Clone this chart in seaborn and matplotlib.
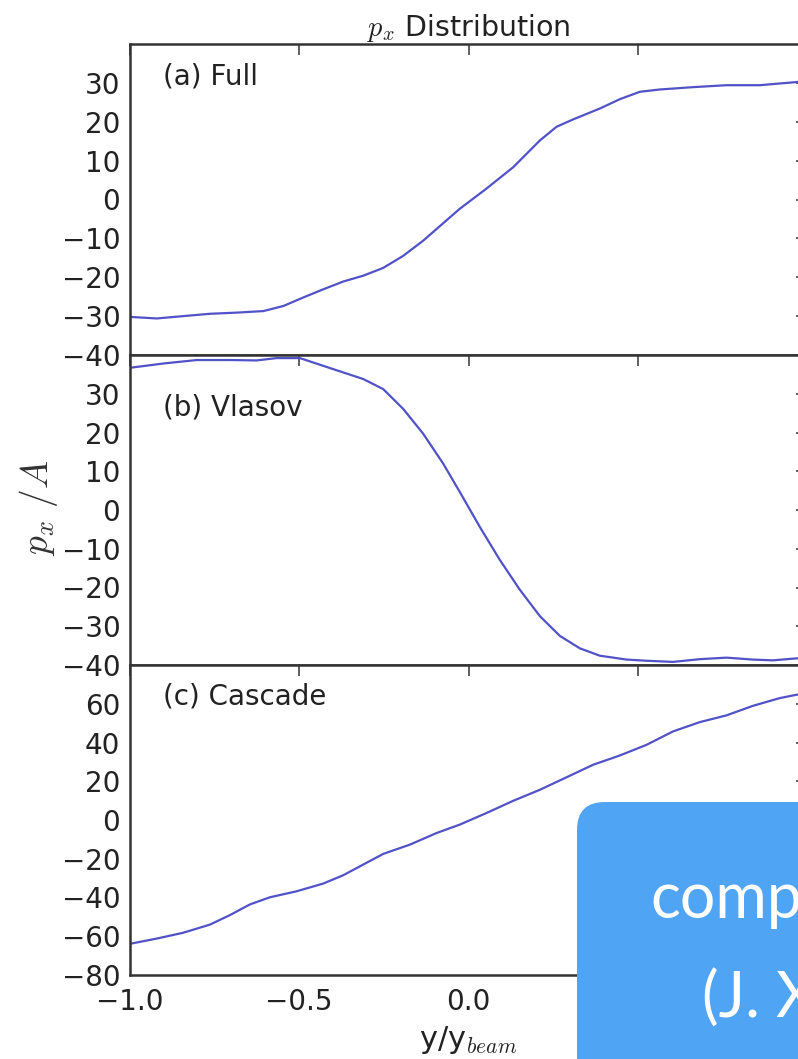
import numpy as np
import pandas as pd
import seaborn as sns
import matplotlib
matplotlib.use("Agg")
import matplotlib.pyplot as plt
from matplotlib.patches import FancyBboxPatch

# ---- data ----
x_full = [-1.0, -0.921, -0.843, -0.764, -0.685, -0.606, -0.547, -0.488, -0.429, -0.370,
          -0.311, -0.252, -0.193, -0.134, -0.080, -0.026, 0.053, 0.132, 0.211, 0.260,
          0.309, 0.388, 0.447, 0.506, 0.565, 0.663, 0.762, 0.860, 0.968, 1.0]
y_full = [-30.2, -30.6, -30.0, -29.4, -29.1, -28.7, -27.4, -25.2, -23.1, -21.1,
          -19.6, -17.6, -14.5, -10.6, -6.5, -2.4, 2.8, 8.3, 15.2, 18.7,
          20.6, 23.4, 25.8, 27.7, 28.3, 28.9, 29.4, 29.4, 30.2, 30.5]

x_vlasov = [-1.0, -0.902, -0.803, -0.705, -0.626, -0.567, -0.498, -0.429, -0.370, -0.311,
            -0.252, -0.193, -0.134, -0.075, -0.026, 0.033, 0.092, 0.151, 0.211, 0.270,
            0.329, 0.388, 0.467, 0.526, 0.604, 0.683, 0.762, 0.840, 0.899, 0.968, 1.0]
y_vlasov = [36.7, 37.8, 38.7, 38.7, 38.6, 39.2, 39.2, 37.2, 35.5, 33.8,
            31.2, 26.1, 19.7, 12.0, 4.7, -4.3, -12.8, -20.5, -27.4, -32.5,
            -35.7, -37.6, -38.6, -38.9, -39.2, -38.5, -38.1, -38.6, -38.8, -38.3, -38.2]

x_cascade = [-1.0, -0.921, -0.843, -0.764, -0.705, -0.646, -0.587, -0.508, -0.429, -0.370,
             -0.311, -0.252, -0.173, -0.094, -0.026, 0.053, 0.132, 0.211, 0.289, 0.368,
             0.447, 0.526, 0.604, 0.683, 0.762, 0.840, 0.919, 0.968, 1.0]
y_cascade = [-63.9, -61.2, -58.2, -54.0, -49.1, -43.6, -39.9, -36.8, -32.8, -28.5,
             -23.0, -17.5, -12.7, -6.7, -2.4, 3.6, 9.9, 15.6, 22.0, 28.5,
             33.3, 38.8, 45.7, 50.5, 54.0, 58.9, 62.9, 64.6, 65.5]

panel_labels = ["(a) Full", "(b) Vlasov", "(c) Cascade"]
ylims = [(-40, 40), (-40, 40), (-80, 80)]
yticks = [list(range(-40, 31, 10)), list(range(-40, 31, 10)), list(range(-80, 61, 20))]
xticks = [-1.0, -0.5, 0.0, 0.5, 1.0]
xticklabels = ["\u22121.0", "\u22120.5", "0.0", "", ""]
title = r"$p_x$ Distribution"
ylabel = r"$p_x\ /A$"
xlabel = r"y/y$_{beam}$"

sns.set_style("white")
plt.rcParams["font.family"] = ["DejaVu Sans"]
plt.rcParams["mathtext.fontset"] = "cm"

W, H = 798, 1059
fig = plt.figure(figsize=(W / 100, H / 100), dpi=100)

def fx(px):
    return px / W

def fy(py):
    return 1 - py / H

left = fx(130)
width = 677 / W
tops = [44, 355, 665]
bots = [355, 665, 975]
label_y = [0.897, 0.832, 0.90]

datasets = [(x_full, y_full), (x_vlasov, y_vlasov), (x_cascade, y_cascade)]
axes = []
for i in range(3):
    ax = fig.add_axes([left, fy(bots[i]), width, (bots[i] - tops[i]) / H])
    df = pd.DataFrame({"x": datasets[i][0], "y": datasets[i][1]})
    sns.lineplot(data=df, x="x", y="y", ax=ax, color="#5252c8", linewidth=1.6)
    ax.set_xlim(-1.0, 1.0)
    ax.set_ylim(*ylims[i])
    ax.set_yticks(yticks[i])
    ax.set_xticks(xticks)
    ax.set_xlabel("")
    ax.set_ylabel("")
    for s in ax.spines.values():
        s.set_color("#333333")
        s.set_linewidth(1.8)
    ax.tick_params(direction="in", top=True, right=True, length=8, width=1.2,
                   color="#444444", labelsize=20, pad=7, labelcolor="#222222")
    if i < 2:
        ax.tick_params(labelbottom=False)
    else:
        ax.set_xticklabels(xticklabels)
        ax.tick_params(axis="x", pad=9)
    ax.text(0.049, label_y[i], panel_labels[i], transform=ax.transAxes,
            fontsize=20, va="center", ha="left", color="#222222")
    axes.append(ax)

axes[0].set_title(title, fontsize=20.5, pad=5, color="#222222")
fig.text(fx(38), fy(508), ylabel, rotation=90, fontsize=27, va="center", ha="center",
         color="#333333")
fig.text(fx(468), fy(1040), xlabel, fontsize=22, va="center", ha="center", color="#222222")

# overlay box (partially cropped)
shadow = FancyBboxPatch((fx(580), fy(1100)), fx(330), fy(806) - fy(1100),
                        boxstyle="round,pad=0,rounding_size=0.035",
                        transform=fig.transFigure, facecolor="#000000", alpha=0.15,
                        edgecolor="none", zorder=9, mutation_aspect=W / H)
box = FancyBboxPatch((fx(577), fy(1100)), fx(330), fy(802) - fy(1100),
                     boxstyle="round,pad=0,rounding_size=0.035",
                     transform=fig.transFigure, facecolor="#50a4f4",
                     edgecolor="none", zorder=10, mutation_aspect=W / H)
fig.patches.extend([shadow, box])
fig.text(fx(650), fy(918), "comp", fontsize=45, color="white", family="Lato",
         ha="left", va="baseline", zorder=11)
fig.text(fx(702), fy(1018), "(J. X", fontsize=45, color="white", family="Lato",
         ha="left", va="baseline", zorder=11)

fig.savefig("out.png", dpi=100)
